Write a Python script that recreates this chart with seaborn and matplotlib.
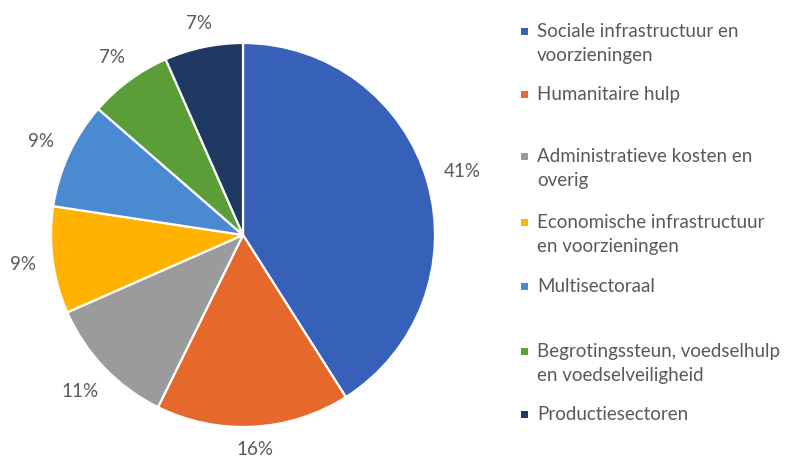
import numpy as np
import matplotlib
matplotlib.use("Agg")
import matplotlib.pyplot as plt
import seaborn as sns
from matplotlib.patches import Rectangle

categories = [
    "Sociale infrastructuur en\nvoorzieningen",
    "Humanitaire hulp",
    "Administratieve kosten en\noverig",
    "Economische infrastructuur\nen voorzieningen",
    "Multisectoraal",
    "Begrotingssteun, voedselhulp\nen voedselveiligheid",
    "Productiesectoren",
]
shares = [41.0, 16.3, 11.1, 9.0, 9.0, 7.0, 6.6]
colors = ["#3760B8", "#E5692A", "#9B9B9B", "#FFB300", "#4A8AD0", "#5B9E37", "#1F3864"]

sns.set_theme(style="white")
plt.rcParams["font.family"] = ["Lato", "DejaVu Sans"]
TXT = "#595959"
FS = 13.5

W, H = 789, 459
fig = plt.figure(figsize=(W / 100, H / 100), dpi=100)
fig.patch.set_facecolor("white")

# pie axes: center (243,235) px from top, radius 192 px
cx, cy, R = 243, 235, 192
ax = fig.add_axes([0, 0, 486 / W, 448 / H])

wedges, _ = ax.pie(shares, colors=colors, startangle=90, counterclock=False,
                   radius=1.0, wedgeprops=dict(edgecolor="white", linewidth=1.6))
ax.set_aspect("auto")
ax.set_xlim(-243 / R, 243 / R)
ax.set_ylim(-224 / R, 224 / R)
ax.axis("off")

# percentage labels placed outside end
gap = 16 / R
tw_h = 5.5 / R
for w, v in zip(wedges, shares):
    th = np.deg2rad((w.theta1 + w.theta2) / 2)
    dx, dy = np.cos(th), np.sin(th)
    label = f"{v:.0f}%"
    half_w = (len(label) * 6.5) / R
    d = 1.0 + gap + abs(dx) * half_w + abs(dy) * tw_h
    ax.text(d * dx, d * dy, label, ha="center", va="center",
            fontsize=FS, color=TXT, clip_on=False)

# manual legend
baselines = [37, 100, 162, 228, 292, 357, 420]
for lab, col, by in zip(categories, colors, baselines):
    fig.patches.append(Rectangle((521 / W, 1 - (by - 2.5) / H), 7 / W, 7 / H,
                                 transform=fig.transFigure, facecolor=col,
                                 edgecolor="none"))
    for i, line in enumerate(lab.split("\n")):
        fig.text(537 / W, 1 - (by + 24 * i) / H, line, ha="left", va="baseline",
                 fontsize=FS, color=TXT)

fig.savefig("out.png", dpi=100, facecolor="white")
